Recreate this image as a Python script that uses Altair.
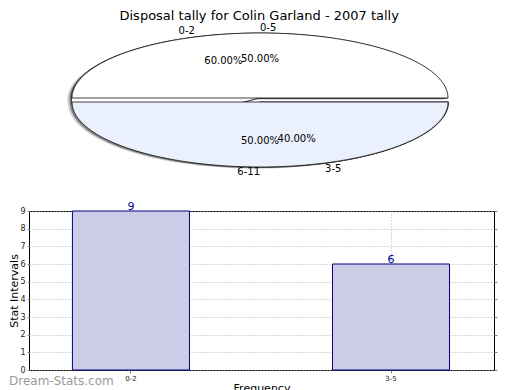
import altair as alt
import pandas as pd

title_text = "Disposal tally for Colin Garland - 2007 tally"
watermark = "Dream-Stats.com"

# two overlaid pie series
pie_a_labels = ["0-2", "3-5"]
pie_a_values = [60.0, 40.0]
pie_b_labels = ["0-5", "6-11"]
pie_b_values = [50.0, 50.0]
slice_colors = ["#ffffff", "#eaf0fc"]

# bar series
bar_categories = ["0-2", "3-5"]
bar_values = [9, 6]
y_ticks = list(range(0, 10))

FONT = "DejaVu Sans"

rows = []
for p, (labels, values) in enumerate([(pie_a_labels, pie_a_values), (pie_b_labels, pie_b_values)]):
    total = sum(values)
    cum = 0.0
    for k, (lab, v) in enumerate(zip(labels, values)):
        rows.append({"pie": p, "k": k, "label": lab, "pct": f"{100 * v / total:.2f}%",
                     "f0": cum / total, "f1": (cum + v) / total})
        cum += v
slices = pd.DataFrame(rows)

# ---- pie panel (unit circle squashed by the x/y scales) ----
PW, PH = 465, 160
RX, RY = 188, 65
CX, CY = 231, 77
xs = alt.Scale(domain=[-CX / RX, (PW - CX) / RX], nice=False, zero=False)
ys = alt.Scale(domain=[-(PH - CY) / RY, CY / RY], nice=False, zero=False)
N = 90

base = alt.Chart(slices).transform_calculate(mid="PI*(datum.f0+datum.f1)")


def wedges(filter_expr, fill, stroke="#111111", dx=0, dy=0):
    c = (base.transform_filter(filter_expr)
         .transform_calculate(seq=f"sequence(0, {N + 3})")
         .transform_flatten(["seq"])
         .transform_calculate(
             t=f"clamp((datum.seq-1)/{N}, 0, 1)",
             a="2*PI*(datum.f0+(datum.f1-datum.f0)*datum.t)",
             r=f"(datum.seq==0||datum.seq=={N + 2}) ? 0 : 1",
             px="datum.r*cos(datum.a) + 0.011*cos(datum.mid)",
             py="datum.r*sin(datum.a) + 0.031*sin(datum.mid)",
             id="datum.pie*10+datum.k",
         ))
    props = dict(fill=fill, interpolate="linear", xOffset=dx, yOffset=dy)
    if stroke is None:
        props["strokeOpacity"] = 0
    else:
        props["stroke"] = stroke
        props["strokeWidth"] = 0.8
    return c.mark_line(**props).encode(
        x=alt.X("px:Q", scale=xs, axis=None),
        y=alt.Y("py:Q", scale=ys, axis=None),
        order=alt.Order("seq:Q"),
        detail=alt.Detail("id:N"),
    )


shadow1 = wedges("true", "#cfcfcf", stroke=None, dx=-4, dy=1.5)
shadow2 = wedges("true", "#808080", stroke=None, dx=-2, dy=1)
slice_layers = []
for p in (0, 1):
    for k in (0, 1):
        slice_layers.append(wedges(f"datum.pie=={p} && datum.k=={k}", slice_colors[k]))

lab = base.transform_calculate(lx="1.12*cos(datum.mid)", ly="1.11*sin(datum.mid)")
lab_r = lab.transform_filter("cos(datum.mid) >= 0").mark_text(
    align="left", baseline="middle", font=FONT, fontSize=10, color="black"
).encode(x=alt.X("lx:Q", scale=xs, axis=None), y=alt.Y("ly:Q", scale=ys, axis=None), text="label:N")
lab_l = lab.transform_filter("cos(datum.mid) < 0").mark_text(
    align="right", baseline="middle", font=FONT, fontSize=10, color="black"
).encode(x=alt.X("lx:Q", scale=xs, axis=None), y=alt.Y("ly:Q", scale=ys, axis=None), text="label:N")
pct = base.transform_calculate(qx="0.63*cos(datum.mid)", qy="0.63*sin(datum.mid)").mark_text(
    align="center", baseline="middle", font=FONT, fontSize=10, color="black"
).encode(x=alt.X("qx:Q", scale=xs, axis=None), y=alt.Y("qy:Q", scale=ys, axis=None), text="pct:N")

pie = alt.layer(shadow1, shadow2, *slice_layers, lab_r, lab_l, pct).properties(
    width=PW, height=PH, view=alt.ViewBackground(strokeOpacity=0)
)

# ---- bar panel ----
BW, BH = 465, 159
LP = 28  # plot-left position on the page (after the y axis)
bar_df = pd.DataFrame({"cat": bar_categories, "val": bar_values})
grid_kw = dict(grid=True, gridColor="#b0b0b0", gridDash=[1, 2], gridWidth=1)

xb = alt.X("cat:N", sort=bar_categories,
           scale=alt.Scale(paddingInner=0.55, paddingOuter=0.169, align=0.494),
           axis=alt.Axis(title="Frequency", labelAngle=0, labelFont=FONT, labelFontSize=7,
                         labelColor="#222", titleFont=FONT, titleFontSize=11, titleFontWeight="normal",
                         titleColor="black", titlePadding=1, tickSize=3, tickColor="#888",
                         labelPadding=1, domain=False, bandPosition=0.5, **grid_kw))
yscale = alt.Scale(domain=[0, 9], nice=False, zero=True)

bars = alt.Chart(bar_df).mark_bar(fill="#ccccE6", stroke="#000080", strokeWidth=1).encode(
    x=xb,
    y=alt.Y("val:Q", scale=yscale,
            axis=alt.Axis(title="Stat Intervals", values=y_ticks, labelFont=FONT, labelFontSize=8,
                          labelColor="#222", titleFont=FONT, titleFontSize=11, titleFontWeight="normal",
                          titleColor="black", titlePadding=0, tickSize=2, tickColor="#888",
                          labelPadding=2, domain=False, **grid_kw)),
)
vals = alt.Chart(bar_df).mark_text(baseline="alphabetic", dy=-1, font=FONT, fontSize=11, color="#000099").encode(
    x=alt.X("cat:N", sort=bar_categories),
    y=alt.Y("val:Q", scale=yscale,
            axis=alt.Axis(orient="right", labels=False, title=None, grid=False, domain=False,
                          values=y_ticks, tickSize=3, tickColor="#888")),
    text="val:Q",
)
wm = alt.Chart(pd.DataFrame({"t": [watermark]})).mark_text(
    align="left", baseline="middle", font=FONT, fontSize=12, color="#9a9a9a"
).encode(x=alt.value(-(LP - 8)), y=alt.value(BH + 11), text="t:N")

barchart = alt.layer(bars, vals, wm).resolve_axis(y="independent").properties(
    width=BW, height=BH, view=alt.ViewBackground(stroke="black", strokeWidth=1)
)

chart = alt.vconcat(pie, barchart, spacing=17).properties(
    padding={"top": 1, "left": 0, "right": 0, "bottom": 0},
    title=alt.TitleParams(title_text, font=FONT, fontSize=13, fontWeight="normal", color="black",
                          anchor="middle", offset=0, dx=6),
).configure_view(stroke=None)

chart.save("out.html", embed_options={"renderer": "svg", "actions": False})
